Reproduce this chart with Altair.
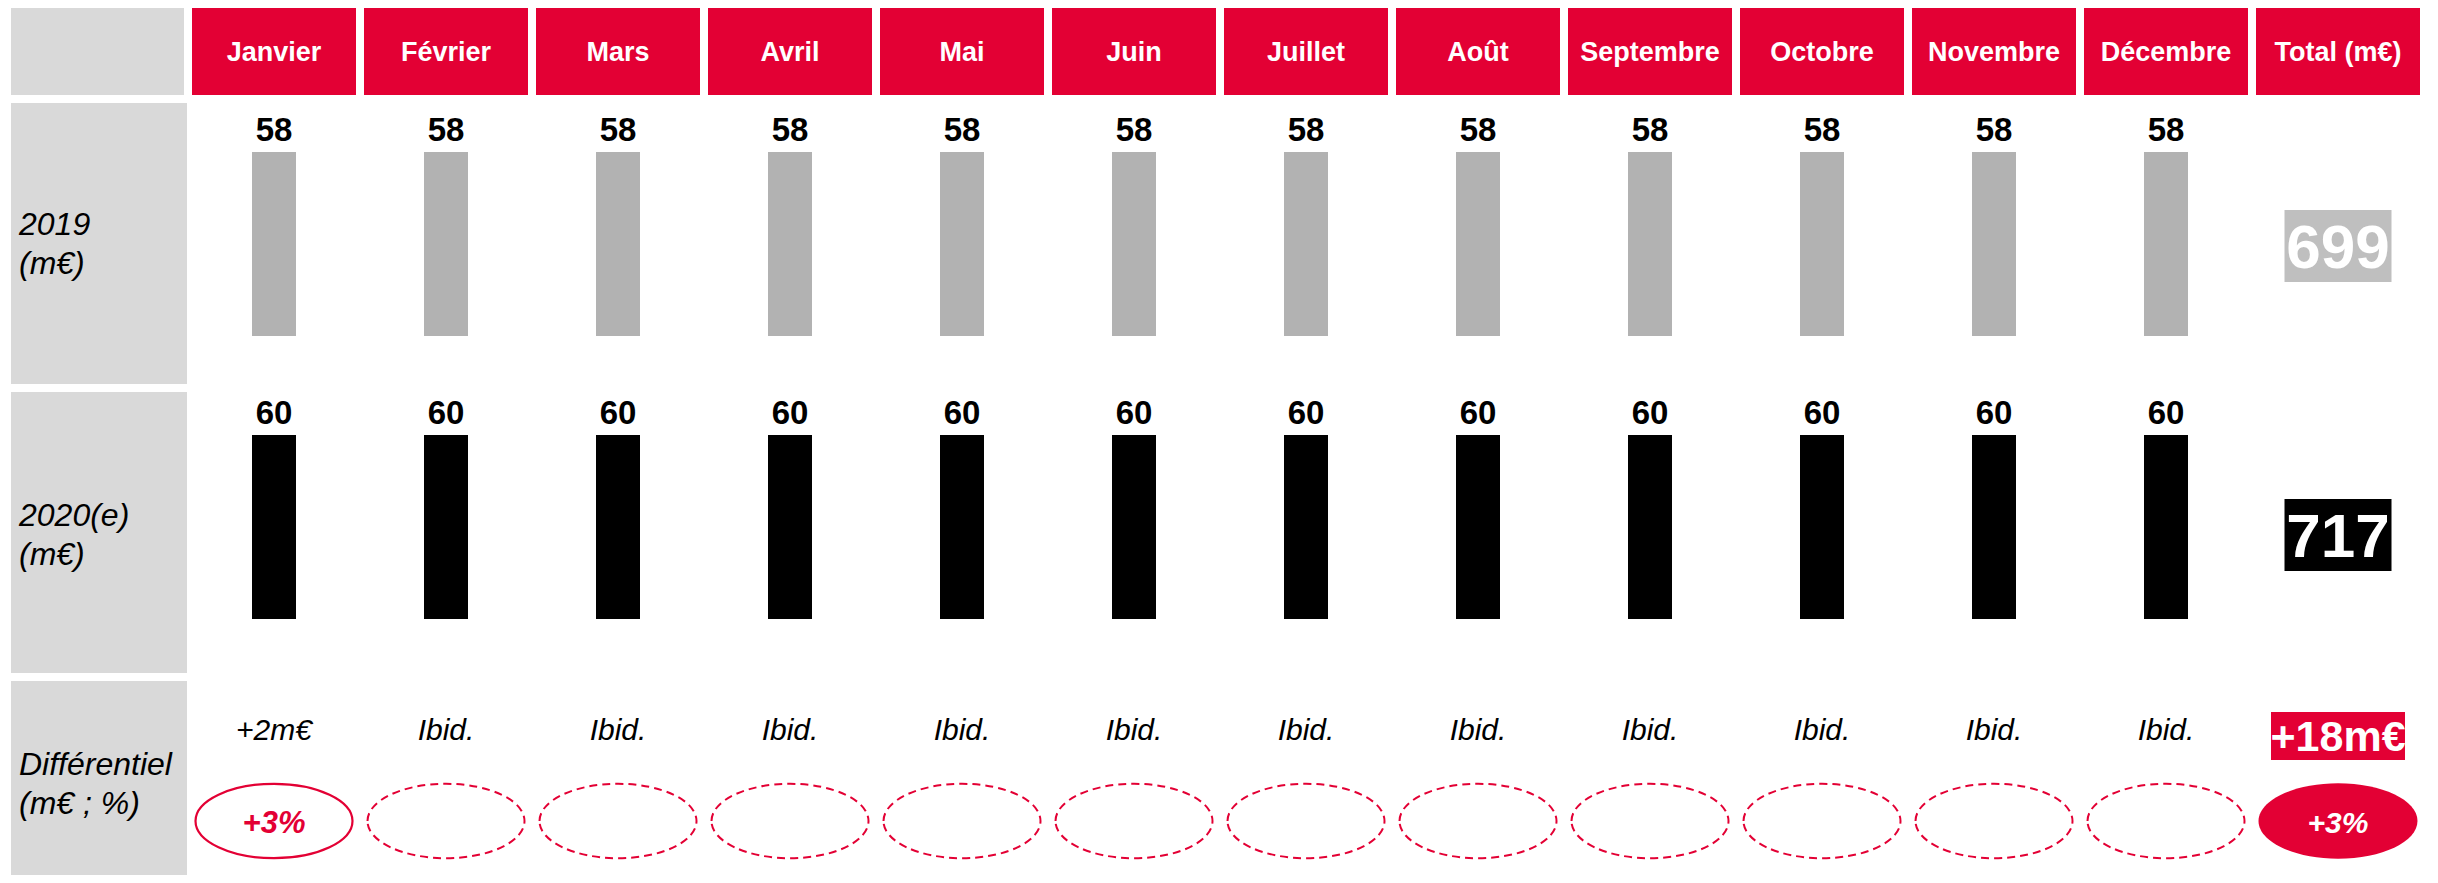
import altair as alt
import pandas as pd

# ---------------- data ----------------
months = ["Janvier", "Février", "Mars", "Avril", "Mai", "Juin", "Juillet",
          "Août", "Septembre", "Octobre", "Novembre", "Décembre"]
total_col = "Total (m€)"
columns = months + [total_col]

values_2019 = [58, 58, 58, 58, 58, 58, 58, 58, 58, 58, 58, 58]
values_2020 = [60, 60, 60, 60, 60, 60, 60, 60, 60, 60, 60, 60]
total_2019 = 699
total_2020 = 717

diff_amounts = ["+2m€", "Ibid.", "Ibid.", "Ibid.", "Ibid.", "Ibid.", "Ibid.",
                "Ibid.", "Ibid.", "Ibid.", "Ibid.", "Ibid."]
diff_percents = ["+3%", "", "", "", "", "", "", "", "", "", "", ""]
diff_styles = ["solid", "dashed", "dashed", "dashed", "dashed", "dashed", "dashed",
               "dashed", "dashed", "dashed", "dashed", "dashed"]
total_diff_amount = "+18m€"
total_diff_percent = "+3%"

row_titles = [["2019", "(m€)"], ["2020(e)", "(m€)"], ["Différentiel", "(m€ ; %)"]]

# ---------------- style ----------------
RED = "#E30034"
LABEL_GREY = "#D9D9D9"
BAR_GREY = "#B2B2B2"
TOTAL_GREY = "#BFBFBF"
FONT = "Liberation Sans"

LABEL_W = 179
GRID_W = 2228
HEAD_H = 87
ROW_H = 281
DIFF_H = 194

xscale = alt.Scale(domain=columns, paddingInner=8 / 172, paddingOuter=0)
X = alt.X("col:N", scale=xscale, axis=None)

ELLIPSE = ("M-1,0C-1,-0.262,-0.552,-0.474,0,-0.474C0.552,-0.474,1,-0.262,1,0"
           "C1,0.262,0.552,0.474,0,0.474C-0.552,0.474,-1,0.262,-1,0Z")
ELLIPSE_SIZE = 157 * 157


def label_panel(lines, h, right, first_line_y):
    d = alt.Data(values=[{"label": lines}])
    rect = alt.Chart(d).mark_rect(color=LABEL_GREY).encode(
        x=alt.value(3), x2=alt.value(right), y=alt.value(0), y2=alt.value(h))
    txt = alt.Chart(d).mark_text(
        align="left", baseline="middle", font=FONT, fontSize=32,
        fontStyle="italic", lineHeight=39, color="black"
    ).encode(x=alt.value(11), y=alt.value(first_line_y), text="label:N")
    return alt.layer(rect, txt).properties(width=LABEL_W, height=h)


# header
head_df = pd.DataFrame({"col": columns})
head_grid = alt.layer(
    alt.Chart(head_df).mark_rect(color=RED).encode(
        x=X, y=alt.value(0), y2=alt.value(HEAD_H)),
    alt.Chart(head_df).mark_text(
        color="white", font=FONT, fontSize=27, fontWeight="bold", baseline="middle"
    ).encode(x=X, y=alt.value(HEAD_H / 2 + 1), text="col:N"),
).properties(width=GRID_W, height=HEAD_H)


def bar_row(values, total, bar_color, total_color, y_zero, y_top):
    df = pd.DataFrame({"col": months, "v": values})
    tdf = pd.DataFrame({"col": [total_col], "t": [str(total)]})
    ys = alt.Scale(domain=[0, max(values)], range=[y_zero, y_top], nice=False)
    Y = alt.Y("v:Q", scale=ys, axis=None)
    bars = alt.Chart(df).mark_bar(color=bar_color, size=44).encode(x=X, y=Y)
    labels = alt.Chart(df).mark_text(
        baseline="alphabetic", dy=-11, fontSize=33, fontWeight="bold",
        font=FONT, color="black").encode(x=X, y=Y, text="v:Q")
    tbox = alt.Chart(tdf).mark_bar(color=total_color, size=107).encode(
        x=X, y=alt.value(107), y2=alt.value(179))
    ttext = alt.Chart(tdf).mark_text(
        color="white", fontSize=62, fontWeight="bold", font=FONT, baseline="middle"
    ).encode(x=X, y=alt.value(146), text="t:N")
    return alt.layer(bars, labels, tbox, ttext).properties(width=GRID_W, height=ROW_H)


row1 = bar_row(values_2019, total_2019, BAR_GREY, TOTAL_GREY, 233, 49)
row2 = bar_row(values_2020, total_2020, "black", "black", 227, 43)

# differential row
ddf = pd.DataFrame({"col": months, "amount": diff_amounts,
                    "pct": diff_percents, "style": diff_styles})
tdd = pd.DataFrame({"col": [total_col], "amount": [total_diff_amount],
                    "pct": [total_diff_percent]})

amount_txt = alt.Chart(ddf).mark_text(
    fontSize=30, fontStyle="italic", font=FONT, color="black", baseline="middle"
).encode(x=X, y=alt.value(50), text="amount:N")
solid_ell = alt.Chart(ddf).transform_filter("datum.style == 'solid'").mark_point(
    shape=ELLIPSE, size=ELLIPSE_SIZE, filled=False, color=RED, strokeWidth=2.2, opacity=1
).encode(x=X, y=alt.value(140))
dashed_ell = alt.Chart(ddf).transform_filter("datum.style == 'dashed'").mark_point(
    shape=ELLIPSE, size=ELLIPSE_SIZE, filled=False, color=RED, strokeWidth=2,
    strokeDash=[8, 5], opacity=1
).encode(x=X, y=alt.value(140))
pct_txt = alt.Chart(ddf).mark_text(
    fontSize=31, fontStyle="italic", fontWeight="bold", font=FONT, color=RED,
    baseline="middle").encode(x=X, y=alt.value(143), text="pct:N")
t_box = alt.Chart(tdd).mark_bar(color=RED, size=134).encode(
    x=X, y=alt.value(31), y2=alt.value(79))
t_amount = alt.Chart(tdd).mark_text(
    fontSize=43, fontWeight="bold", font=FONT, color="white", baseline="middle"
).encode(x=X, y=alt.value(57), text="amount:N")
t_ell = alt.Chart(tdd).mark_point(
    shape=ELLIPSE, size=159 * 159, filled=True, color=RED, opacity=1
).encode(x=X, y=alt.value(140))
t_pct = alt.Chart(tdd).mark_text(
    fontSize=30, fontStyle="italic", fontWeight="bold", font=FONT, color="white",
    baseline="middle").encode(x=X, y=alt.value(143), text="pct:N")

row3 = alt.layer(amount_txt, solid_ell, dashed_ell, pct_txt, t_box, t_amount,
                 t_ell, t_pct).properties(width=GRID_W, height=DIFF_H)

rows = [
    alt.hconcat(label_panel("", HEAD_H, 176, HEAD_H / 2), head_grid,
                spacing=5, bounds="flush"),
    alt.hconcat(label_panel(row_titles[0], ROW_H, LABEL_W, ROW_H / 2 - 19), row1,
                spacing=5, bounds="flush"),
    alt.hconcat(label_panel(row_titles[1], ROW_H, LABEL_W, ROW_H / 2 - 17), row2,
                spacing=5, bounds="flush"),
    alt.hconcat(label_panel(row_titles[2], DIFF_H, LABEL_W, 84), row3,
                spacing=5, bounds="flush"),
]

chart = alt.vconcat(*rows, spacing=8).properties(
    padding=0
).configure(font=FONT).configure_view(strokeWidth=0, stroke="transparent")

chart.save("out.html", embed_options={"renderer": "svg", "actions": False})
